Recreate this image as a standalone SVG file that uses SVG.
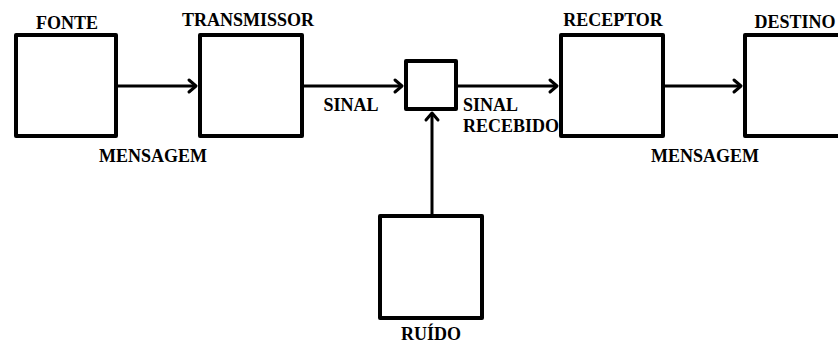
<svg xmlns="http://www.w3.org/2000/svg" width="838" height="344" viewBox="0 0 838 344">
<style>
.box{fill:#fff;stroke:#000;stroke-width:4;stroke-linejoin:round}
.con{fill:none;stroke:#000;stroke-width:3}
.head{fill:none;stroke:#000;stroke-width:3;stroke-linecap:round;stroke-linejoin:round}
text{font-family:"Liberation Serif","Times New Roman",serif;font-weight:bold;font-size:18px;fill:#000}
.c{text-anchor:middle}
</style>
<rect width="838" height="344" fill="#fff"/>
<g id="connectors">
<line class="con" x1="118" y1="86" x2="196" y2="86"/>
<polyline class="head" points="189,80 196,86 189,92"/>
<line class="con" x1="304" y1="86" x2="402" y2="86"/>
<polyline class="head" points="395,80 402,86 395,92"/>
<line class="con" x1="458" y1="86" x2="557" y2="86"/>
<polyline class="head" points="550,80 557,86 550,92"/>
<line class="con" x1="665" y1="86" x2="741" y2="86"/>
<polyline class="head" points="734,80 741,86 734,92"/>
<line class="con" x1="432" y1="214" x2="432" y2="113"/>
<polyline class="head" points="426,120 432,113 438,120"/>
</g>
<g id="fonte">
<rect class="box" x="16" y="35" width="100" height="101"/>
<text class="c" x="67" y="29">FONTE</text>
</g>
<g id="transmissor">
<rect class="box" x="200" y="35" width="102" height="101"/>
<text class="c" x="248" y="26">TRANSMISSOR</text>
</g>
<g id="canal">
<rect class="box" x="406" y="61" width="50" height="48"/>
</g>
<g id="receptor">
<rect class="box" x="561" y="35" width="102" height="101"/>
<text class="c" x="613" y="26">RECEPTOR</text>
</g>
<g id="destino">
<rect class="box" x="745" y="35" width="102" height="101"/>
<text class="c" x="795" y="28">DESTINO</text>
</g>
<g id="ruido">
<rect class="box" x="380" y="216" width="102" height="102"/>
<text class="c" x="431" y="340">RUÍDO</text>
</g>
<g id="labels">
<text class="c" x="153" y="162">MENSAGEM</text>
<text class="c" x="351" y="111">SINAL</text>
<text x="463" y="111">SINAL</text>
<text x="463" y="132">RECEBIDO</text>
<text class="c" x="705" y="162">MENSAGEM</text>
</g>
</svg>
